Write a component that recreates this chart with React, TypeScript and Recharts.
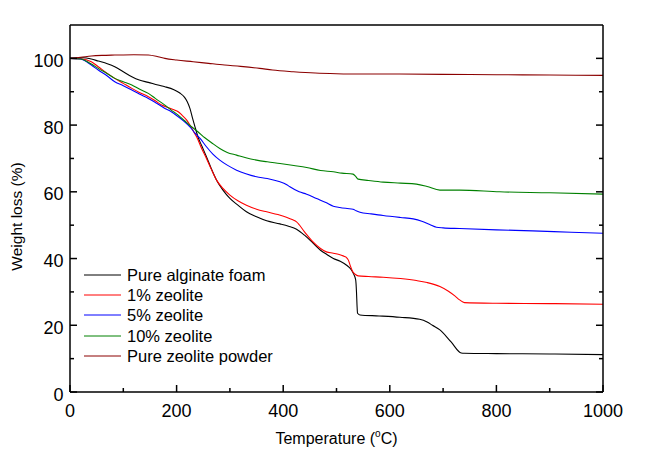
import React from 'react';
import { LineChart, Line, XAxis, YAxis, Legend } from 'recharts';

type P = { t: number; w: number };
const mk = (arr: number[][]): P[] => arr.map(([t, w]) => ({ t, w }));

const seriesNames = ['Pure alginate foam', '1% zeolite', '5% zeolite', '10% zeolite', 'Pure zeolite powder'];
const seriesColors = ['#000000', '#ff0000', '#0000ff', '#008000', '#8b0000'];

const alginate = mk([
  [0, 100], [25, 100.2], [40, 99.8], [53, 99.2], [70, 98.4], [84, 97.5], [100, 96], [116, 94.5], [130, 93.5],
  [147, 92.8], [165, 92], [178, 91.5], [195, 90.6], [206, 89.6], [215, 88.3], [220, 87], [225, 85], [230, 82],
  [235, 79.2], [240, 76.5], [248, 73.5], [256, 70.5], [265, 67], [275, 63.5], [287, 60.5], [300, 58], [315, 56],
  [331, 54], [350, 52.5], [369, 51.3], [394, 50.4], [410, 49.7], [425, 48.8], [440, 47], [456, 44.6], [470, 42.5],
  [482, 41.2], [494, 40], [507, 39.2], [519, 38], [527, 36.8], [532, 35.4], [536, 33.6], [537.5, 30], [538.5, 26],
  [539.5, 23.6], [544, 23.1], [580, 22.8], [619, 22.4], [656, 21.8], [670, 21], [680, 20], [694, 18.6], [715, 15],
  [734, 11.7], [740, 11.6], [800, 11.5], [900, 11.4], [1000, 11.2],
]);

const zeolite1 = mk([
  [0, 100], [20, 99.9], [40, 99], [53, 97.5], [70, 95.5], [84, 94], [100, 92.5], [116, 91], [130, 89.8], [147, 88.5],
  [160, 87.3], [172, 86], [185, 85.2], [195, 84.6], [203, 84], [210, 83], [219, 81.5], [225, 80], [231, 78.3],
  [237.5, 76.5], [247, 73], [256, 70], [265, 66.8], [275, 63.5], [287, 61], [300, 59], [315, 57.3], [331, 56],
  [350, 54.8], [369, 54], [390, 53.2], [406, 52.4], [418, 51.6], [425, 51], [440, 48], [456, 45], [470, 43],
  [481, 42], [494, 41.6], [505, 41.2], [512.5, 40.8], [518, 40.4], [522, 39.6], [526, 37.8], [530, 36.2],
  [535, 35.3], [540.6, 34.8], [560, 34.6], [587.5, 34.4], [620, 34], [650, 33.4], [670, 32.8], [694, 31.6],
  [710, 30.2], [722, 28.8], [731, 27.6], [740, 26.8], [800, 26.6], [900, 26.5], [1000, 26.3],
]);

const zeolite5 = mk([
  [0, 100], [20, 99.8], [40, 98], [53, 96.5], [70, 94.7], [84, 93], [100, 91.8], [116, 90.5], [130, 89.3], [147, 88],
  [160, 86.8], [178, 85], [190, 84], [203, 82.5], [215, 81], [225, 79.5], [235, 77.5], [244, 76], [256, 73.5],
  [268, 71.3], [281, 69.5], [295, 68], [312.5, 66.5], [330, 65.4], [350, 64.5], [370, 64], [394, 63], [405, 62.3],
  [412.5, 61.5], [430, 60], [444, 59.3], [462.6, 58], [480, 56.8], [494, 55.7], [506, 55.3], [520, 55], [531, 54.8],
  [537, 54.3], [544, 53.9], [565, 53.4], [587.5, 52.9], [620, 52.3], [644, 51.9], [660, 51.2], [675, 50.2],
  [687.5, 49.4], [700, 49.2], [731, 49], [800, 48.6], [868, 48.3], [940, 47.9], [1000, 47.6],
]);

const zeolite10 = mk([
  [0, 100], [20, 99.8], [40, 98.3], [53, 97], [70, 95.4], [84, 94], [100, 93], [116, 92], [130, 90.8], [147, 89.5],
  [160, 88], [178, 86], [190, 84.5], [203, 83], [215, 81.3], [228, 79.5], [240, 78], [253, 76.2], [265, 74.8],
  [281, 73], [295, 71.8], [312.5, 71], [330, 70.2], [350, 69.5], [370, 69], [394, 68.5], [420, 67.9], [444, 67.3],
  [470, 66.4], [494, 66], [510, 65.6], [531, 65.3], [536, 64.6], [540.6, 63.8], [560, 63.4], [587.5, 62.9],
  [620, 62.6], [650, 62.3], [670, 61.6], [694, 60.5], [731, 60.5], [806, 60], [900, 59.7], [1000, 59.3],
]);

const zeolitePowder = mk([
  [0, 100], [20, 100.3], [40, 100.7], [60, 100.9], [84, 101], [120, 101.1], [147, 101], [165, 100.5], [178, 100],
  [200, 99.5], [231, 99], [260, 98.5], [290, 98], [320, 97.6], [356, 97], [380, 96.5], [419, 96], [460, 95.6],
  [500, 95.4], [544, 95.3], [600, 95.3], [700, 95.2], [800, 95.1], [900, 95], [1000, 94.9],
]);

const seriesData = [alginate, zeolite1, zeolite5, zeolite10, zeolitePowder];

const xTicks = [0, 100, 200, 300, 400, 500, 600, 700, 800, 900, 1000];
const yTicks = [0, 10, 20, 30, 40, 50, 60, 70, 80, 90, 100];

const FONT = '"Liberation Sans", Arial, Helvetica, sans-serif';
const AX = 1.5;
const MAJ = 7;
const MIN = 4;

const BottomTick = (p: any) => {
  const { x, y, payload } = p;
  const major = payload.value % 200 === 0;
  return (
    <g>
      <line x1={x} x2={x} y1={y} y2={y - (major ? MAJ : MIN)} stroke="#000" strokeWidth={AX} />
      {major && (
        <text x={x} y={y + 24.7} textAnchor="middle" fontFamily={FONT} fontSize={18} fill="#000">
          {payload.value}
        </text>
      )}
    </g>
  );
};

const TopTick = (p: any) => {
  const { x, y, payload } = p;
  const major = payload.value % 200 === 0;
  return <line x1={x} x2={x} y1={y} y2={y + (major ? MAJ : MIN)} stroke="#000" strokeWidth={AX} />;
};

const LeftTick = (p: any) => {
  const { x, y, payload } = p;
  const major = payload.value % 20 === 0;
  return (
    <g>
      <line x1={x} x2={x + (major ? MAJ : MIN)} y1={y} y2={y} stroke="#000" strokeWidth={AX} />
      {major && (
        <text x={x - 6.5} y={y + 8.5} textAnchor="end" fontFamily={FONT} fontSize={18} fill="#000">
          {payload.value}
        </text>
      )}
    </g>
  );
};

const RightTick = (p: any) => {
  const { x, y, payload } = p;
  const major = payload.value % 20 === 0;
  return <line x1={x} x2={x - (major ? MAJ : MIN)} y1={y} y2={y} stroke="#000" strokeWidth={AX} />;
};

const XTitle = (p: any) => {
  const vb = p.viewBox || {};
  const cx = vb.x + vb.width / 2;
  const y = vb.y + 52;
  return (
    <text x={cx} y={y} textAnchor="middle" fontFamily={FONT} fontSize={16} fill="#000">
      Temperature (
      <tspan dy={-7} fontSize={10}>o</tspan>
      <tspan dy={7}>C)</tspan>
    </text>
  );
};

const YTitle = (p: any) => {
  const vb = p.viewBox || {};
  const cx = 16;
  const cy = vb.y + vb.height / 2 + 8;
  return (
    <text
      x={cx}
      y={cy}
      transform={`rotate(-90 ${cx} ${cy})`}
      textAnchor="middle"
      dominantBaseline="central"
      fontFamily={FONT}
      fontSize={15.5}
      fill="#000"
    >
      Weight loss (%)
    </text>
  );
};

const LegendContent = (p: any) => {
  const payload = [...(p.payload || [])].sort(
    (a: any, b: any) => seriesNames.indexOf(a.value) - seriesNames.indexOf(b.value)
  );
  return (
    <div style={{ fontFamily: FONT, fontSize: 16.5, color: '#000' }}>
      {payload.map((e: any, i: number) => (
        <div key={i} style={{ display: 'flex', alignItems: 'center', height: 20.2, lineHeight: '20.2px' }}>
          <svg width={37} height={4} style={{ display: 'block' }}>
            <line x1={0} x2={37} y1={2} y2={2} stroke={e.color} strokeWidth={1} />
          </svg>
          <span style={{ marginLeft: 6, whiteSpace: 'nowrap' }}>{e.value}</span>
        </div>
      ))}
    </div>
  );
};

export default function App() {
  return (
    <div style={{ position: 'absolute', left: 0, top: 0, width: 645, height: 464, background: '#fff' }}>
      <LineChart width={645} height={464} margin={{ top: 20, right: 37, bottom: 42, left: 10 }}>
        <XAxis
          dataKey="t"
          type="number"
          domain={[0, 1000]}
          ticks={xTicks}
          interval={0}
          tickSize={0}
          tickMargin={0}
          tickLine={false}
          tick={<BottomTick />}
          axisLine={{ stroke: '#000', strokeWidth: AX }}
          height={30}
          allowDataOverflow
          label={<XTitle />}
        />
        <XAxis
          xAxisId="top"
          orientation="top"
          type="number"
          domain={[0, 1000]}
          ticks={xTicks}
          interval={0}
          tickSize={0}
          tickMargin={0}
          tickLine={false}
          tick={<TopTick />}
          axisLine={{ stroke: '#000', strokeWidth: AX }}
          height={5}
          allowDataOverflow
        />
        <YAxis
          type="number"
          domain={[0, 110]}
          ticks={yTicks}
          interval={0}
          tickSize={0}
          tickMargin={0}
          tickLine={false}
          tick={<LeftTick />}
          axisLine={{ stroke: '#000', strokeWidth: AX }}
          width={60}
          allowDataOverflow
          label={<YTitle />}
        />
        <YAxis
          yAxisId="right"
          orientation="right"
          type="number"
          domain={[0, 110]}
          ticks={yTicks}
          interval={0}
          tickSize={0}
          tickMargin={0}
          tickLine={false}
          tick={<RightTick />}
          axisLine={{ stroke: '#000', strokeWidth: AX }}
          width={5}
          allowDataOverflow
        />
        <Legend
          layout="vertical"
          align="center"
          verticalAlign="middle"
          itemSorter={null as any}
          content={<LegendContent />}
          wrapperStyle={{ left: 84, top: 265, width: 'auto', height: 'auto' }}
        />
        {seriesData.map((d, i) => (
          <Line
            key={seriesNames[i]}
            data={d}
            dataKey="w"
            name={seriesNames[i]}
            stroke={seriesColors[i]}
            strokeWidth={1.1}
            type="monotone"
            dot={false}
            activeDot={false}
            isAnimationActive={false}
          />
        ))}
      </LineChart>
    </div>
  );
}
